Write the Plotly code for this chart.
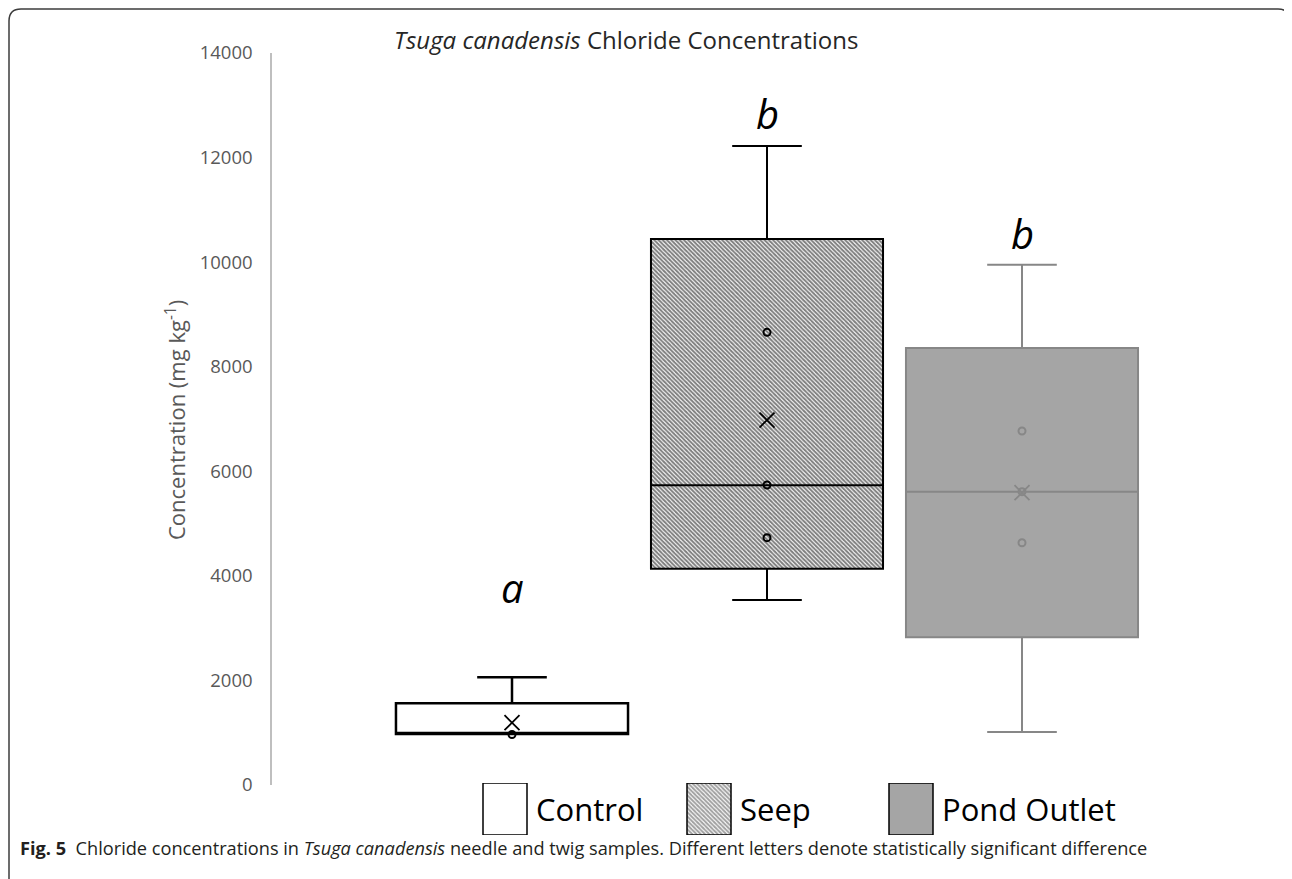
import plotly.graph_objects as go

# ---------------- data ----------------
groups = ["Control", "Seep", "Pond Outlet"]
q1 = [975, 4137, 2825]
median = [975, 5731, 5610]
q3 = [1562, 10442, 8357]
lower_whisker = [975, 3538, 1014]
upper_whisker = [2060, 12220, 9950]
means = [1191, 6980, 5590]
inner_points = [[965], [8657, 5737, 4730], [6770, 5610, 4634]]
letters = ["a", "b", "b"]
letter_y = [3770, 12850, 10550]
y_ticks = [0, 2000, 4000, 6000, 8000, 10000, 12000, 14000]

# ---------------- styles ----------------
fills = ["#ffffff", "rgba(0,0,0,0)", "#a5a5a5"]
lines = ["#000000", "#000000", "#878787"]
line_w = [2.5, 2, 2]
OFF = 8  # default page body margin
W, H = 1292 - OFF, 879 - OFF
ML, MR, MT, MB = 272 - OFF, 22, 53 - OFF, 22
PW, PH = W - ML - MR, H - MT - MB


def px_x(q):
    return (q - OFF - ML) / PW


def px_y(p):
    return (H - MB - (p - OFF)) / PH


AXIS_BOTTOM_PX = 785
BOX_W = 0.91
HATCH = dict(fgcolor="#000000", size=3, solidity=0.65)

fig = go.Figure()

# hatched fill for Seep box
fig.add_trace(go.Bar(
    x=[1], y=[q3[1] - q1[1]], base=[q1[1]], width=BOX_W,
    marker=dict(color="white", line_width=0,
                pattern=dict(shape="\\", bgcolor="white", **HATCH)),
    showlegend=False, hoverinfo="skip", xaxis="x", yaxis="y"))

for i, g in enumerate(groups):
    fig.add_trace(go.Box(
        x=[i], q1=[q1[i]], median=[median[i]], q3=[q3[i]],
        lowerfence=[lower_whisker[i]], upperfence=[upper_whisker[i]],
        width=BOX_W, whiskerwidth=0.3, boxpoints=False,
        fillcolor=fills[i], line=dict(color=lines[i], width=line_w[i]),
        name=g, showlegend=False, xaxis="x", yaxis="y"))

# inner points
px_, py_, pc_ = [], [], []
for i, pts in enumerate(inner_points):
    for v in pts:
        px_.append(i)
        py_.append(v)
        pc_.append(lines[i])
fig.add_trace(go.Scatter(
    x=px_, y=py_, mode="markers",
    marker=dict(symbol="circle-open", size=7, color=pc_, line=dict(width=2, color=pc_)),
    showlegend=False, xaxis="x", yaxis="y"))

# means
fig.add_trace(go.Scatter(
    x=list(range(len(groups))), y=means, mode="markers",
    marker=dict(symbol="x-thin", size=15, line=dict(width=1.8, color=lines)),
    showlegend=False, xaxis="x", yaxis="y"))

# significance letters
for i, (t, yv) in enumerate(zip(letters, letter_y)):
    fig.add_annotation(x=i, y=yv, xref="x", yref="y", text=f"<i>{t}</i>",
                       showarrow=False, font=dict(family="Open Sans", size=40, color="#000000"),
                       xanchor="center", yanchor="middle")

# ---------------- custom legend (aux axes) ----------------
key_left = [483, 687, 889]
key_w = 44
key_top, key_bot = 783, 835
fig.add_trace(go.Bar(
    x=[k + key_w / 2 for k in key_left], y=[1, 1, 1], width=key_w,
    marker=dict(color=["white", "white", "#a5a5a5"],
                line=dict(color="#000000", width=1.5),
                pattern=dict(shape=["", "\\", ""], **HATCH)),
    showlegend=False, hoverinfo="skip", xaxis="x2", yaxis="y2"))
for k, g in zip(key_left, groups):
    fig.add_annotation(x=k + key_w + 7, y=0.5, xref="x2", yref="y2", text=g,
                       showarrow=False, xanchor="left", yanchor="middle",
                       font=dict(family="Open Sans", size=31, color="#000000"))

# title
fig.add_annotation(x=px_x(626), y=px_y(40), xref="paper", yref="paper",
                   text="<i>Tsuga canadensis</i> Chloride Concentrations",
                   showarrow=False, xanchor="center", yanchor="middle",
                   font=dict(family="Open Sans", size=24, color="#262626"))

# y-axis title
fig.add_annotation(x=px_x(175), y=px_y(420), xref="paper", yref="paper",
                   text="Concentration (mg kg<sup>-1</sup>)", textangle=-90,
                   showarrow=False, xanchor="center", yanchor="middle",
                   font=dict(family="Open Sans", size=22, color="#595959"))

# caption
fig.add_annotation(x=px_x(18), y=px_y(848), xref="paper", yref="paper",
                   text="<b>Fig. 5</b>  Chloride concentrations in <i>Tsuga canadensis</i> needle and twig samples. "
                        "Different letters denote statistically significant difference",
                   showarrow=False, xanchor="left", yanchor="middle",
                   font=dict(family="Open Sans", size=18.2, color="#231f20"))

# frame
L, R, T, B, rad = 9, 1290, 9, 900, 12
path = (f"M {px_x(L)},{px_y(B)} L {px_x(L)},{px_y(T + rad)} "
        f"Q {px_x(L)},{px_y(T)} {px_x(L + rad)},{px_y(T)} "
        f"L {px_x(R - rad)},{px_y(T)} Q {px_x(R)},{px_y(T)} {px_x(R)},{px_y(T + rad)} "
        f"L {px_x(R)},{px_y(B)}")
fig.add_shape(type="path", path=path, xref="paper", yref="paper",
              line=dict(color="#3c3c3c", width=1.5))

fig.update_layout(
    width=W, height=H,
    margin=dict(l=ML, r=MR, t=MT, b=MB),
    paper_bgcolor="white", plot_bgcolor="rgba(0,0,0,0)",
    barmode="overlay", boxmode="overlay",
    showlegend=False,
    xaxis=dict(range=[(ML + OFF - 512) / 255, (ML + OFF - 512) / 255 + PW / 255],
               visible=False, domain=[0, 1], anchor="y"),
    yaxis=dict(range=[0, 14000], domain=[px_y(AXIS_BOTTOM_PX), 1],
               tickvals=y_ticks, ticktext=[str(v) for v in y_ticks],
               showgrid=False, zeroline=False, showline=True,
               linecolor="#bfbfbf", linewidth=1.5, ticks="",
               ticklabelstandoff=14,
               tickfont=dict(family="Open Sans", size=18.5, color="#595959"),
               anchor="x"),
    xaxis2=dict(range=[ML + OFF, ML + OFF + PW], visible=False, domain=[0, 1], anchor="y2"),
    yaxis2=dict(range=[0, 1], visible=False,
                domain=[px_y(key_bot), px_y(key_top)], anchor="x2"),
)

fig.write_html("out.html")
